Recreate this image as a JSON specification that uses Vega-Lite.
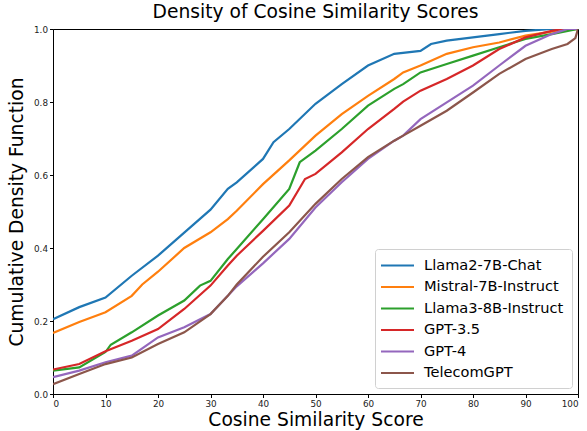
{
  "$schema": "https://vega.github.io/schema/vega-lite/v6.json",
  "width": 525,
  "height": 365,
  "autosize": {"type": "none"},
  "padding": {"left": 53, "top": 29, "right": 9, "bottom": 37},
  "background": "white",
  "title": {"text": "Density of Cosine Similarity Scores", "fontSize": 18.7, "fontWeight": "normal", "font": "DejaVu Sans", "color": "#000", "offset": 3},
  "config": {
    "font": "DejaVu Sans",
    "view": {"stroke": "#000", "strokeWidth": 1},
    "axis": {"grid": false, "domainColor": "#000", "tickColor": "#000", "tickSize": 3.5, "labelFontSize": 8.8, "labelColor": "#222", "titleFontSize": 18.7, "titleFontWeight": "normal", "titleColor": "#000", "labelFont": "DejaVu Sans", "titleFont": "DejaVu Sans"}
  },
  "datasets": {
    "cdf": [
      {"model": "Llama2-7B-Chat", "score": 0, "cdf": 0.205},
      {"model": "Llama2-7B-Chat", "score": 5, "cdf": 0.238},
      {"model": "Llama2-7B-Chat", "score": 10, "cdf": 0.264},
      {"model": "Llama2-7B-Chat", "score": 15, "cdf": 0.324},
      {"model": "Llama2-7B-Chat", "score": 20, "cdf": 0.379},
      {"model": "Llama2-7B-Chat", "score": 25, "cdf": 0.442},
      {"model": "Llama2-7B-Chat", "score": 30, "cdf": 0.505},
      {"model": "Llama2-7B-Chat", "score": 33.3, "cdf": 0.562},
      {"model": "Llama2-7B-Chat", "score": 35, "cdf": 0.58},
      {"model": "Llama2-7B-Chat", "score": 40, "cdf": 0.644},
      {"model": "Llama2-7B-Chat", "score": 42, "cdf": 0.69},
      {"model": "Llama2-7B-Chat", "score": 45, "cdf": 0.726},
      {"model": "Llama2-7B-Chat", "score": 50, "cdf": 0.795},
      {"model": "Llama2-7B-Chat", "score": 55, "cdf": 0.849},
      {"model": "Llama2-7B-Chat", "score": 60, "cdf": 0.9},
      {"model": "Llama2-7B-Chat", "score": 65, "cdf": 0.932},
      {"model": "Llama2-7B-Chat", "score": 70, "cdf": 0.94},
      {"model": "Llama2-7B-Chat", "score": 72, "cdf": 0.959},
      {"model": "Llama2-7B-Chat", "score": 75, "cdf": 0.968},
      {"model": "Llama2-7B-Chat", "score": 80, "cdf": 0.977},
      {"model": "Llama2-7B-Chat", "score": 85, "cdf": 0.986},
      {"model": "Llama2-7B-Chat", "score": 90, "cdf": 0.995},
      {"model": "Llama2-7B-Chat", "score": 95, "cdf": 1.0},
      {"model": "Llama2-7B-Chat", "score": 100, "cdf": 1.0},

      {"model": "Mistral-7B-Instruct", "score": 0, "cdf": 0.167},
      {"model": "Mistral-7B-Instruct", "score": 5, "cdf": 0.197},
      {"model": "Mistral-7B-Instruct", "score": 10, "cdf": 0.224},
      {"model": "Mistral-7B-Instruct", "score": 15, "cdf": 0.269},
      {"model": "Mistral-7B-Instruct", "score": 17, "cdf": 0.3},
      {"model": "Mistral-7B-Instruct", "score": 20, "cdf": 0.335},
      {"model": "Mistral-7B-Instruct", "score": 25, "cdf": 0.4},
      {"model": "Mistral-7B-Instruct", "score": 30, "cdf": 0.443},
      {"model": "Mistral-7B-Instruct", "score": 33.3, "cdf": 0.479},
      {"model": "Mistral-7B-Instruct", "score": 35, "cdf": 0.502},
      {"model": "Mistral-7B-Instruct", "score": 40, "cdf": 0.575},
      {"model": "Mistral-7B-Instruct", "score": 45, "cdf": 0.64},
      {"model": "Mistral-7B-Instruct", "score": 50, "cdf": 0.708},
      {"model": "Mistral-7B-Instruct", "score": 55, "cdf": 0.767},
      {"model": "Mistral-7B-Instruct", "score": 60, "cdf": 0.817},
      {"model": "Mistral-7B-Instruct", "score": 65, "cdf": 0.863},
      {"model": "Mistral-7B-Instruct", "score": 66.7, "cdf": 0.881},
      {"model": "Mistral-7B-Instruct", "score": 70, "cdf": 0.9},
      {"model": "Mistral-7B-Instruct", "score": 75, "cdf": 0.932},
      {"model": "Mistral-7B-Instruct", "score": 80, "cdf": 0.95},
      {"model": "Mistral-7B-Instruct", "score": 85, "cdf": 0.963},
      {"model": "Mistral-7B-Instruct", "score": 90, "cdf": 0.982},
      {"model": "Mistral-7B-Instruct", "score": 95, "cdf": 0.993},
      {"model": "Mistral-7B-Instruct", "score": 100, "cdf": 1.0},

      {"model": "Llama3-8B-Instruct", "score": 0, "cdf": 0.064},
      {"model": "Llama3-8B-Instruct", "score": 5, "cdf": 0.073},
      {"model": "Llama3-8B-Instruct", "score": 10, "cdf": 0.115},
      {"model": "Llama3-8B-Instruct", "score": 11, "cdf": 0.135},
      {"model": "Llama3-8B-Instruct", "score": 15, "cdf": 0.169},
      {"model": "Llama3-8B-Instruct", "score": 20, "cdf": 0.215},
      {"model": "Llama3-8B-Instruct", "score": 25, "cdf": 0.256},
      {"model": "Llama3-8B-Instruct", "score": 28, "cdf": 0.297},
      {"model": "Llama3-8B-Instruct", "score": 30, "cdf": 0.31},
      {"model": "Llama3-8B-Instruct", "score": 33.3, "cdf": 0.37},
      {"model": "Llama3-8B-Instruct", "score": 35, "cdf": 0.397},
      {"model": "Llama3-8B-Instruct", "score": 40, "cdf": 0.479},
      {"model": "Llama3-8B-Instruct", "score": 45, "cdf": 0.562},
      {"model": "Llama3-8B-Instruct", "score": 47, "cdf": 0.635},
      {"model": "Llama3-8B-Instruct", "score": 50, "cdf": 0.667},
      {"model": "Llama3-8B-Instruct", "score": 55, "cdf": 0.726},
      {"model": "Llama3-8B-Instruct", "score": 60, "cdf": 0.79},
      {"model": "Llama3-8B-Instruct", "score": 65, "cdf": 0.836},
      {"model": "Llama3-8B-Instruct", "score": 66.7, "cdf": 0.849},
      {"model": "Llama3-8B-Instruct", "score": 70, "cdf": 0.881},
      {"model": "Llama3-8B-Instruct", "score": 75, "cdf": 0.904},
      {"model": "Llama3-8B-Instruct", "score": 80, "cdf": 0.927},
      {"model": "Llama3-8B-Instruct", "score": 85, "cdf": 0.95},
      {"model": "Llama3-8B-Instruct", "score": 90, "cdf": 0.973},
      {"model": "Llama3-8B-Instruct", "score": 95, "cdf": 0.986},
      {"model": "Llama3-8B-Instruct", "score": 100, "cdf": 1.0},

      {"model": "GPT-3.5", "score": 0, "cdf": 0.067},
      {"model": "GPT-3.5", "score": 5, "cdf": 0.082},
      {"model": "GPT-3.5", "score": 10, "cdf": 0.117},
      {"model": "GPT-3.5", "score": 15, "cdf": 0.146},
      {"model": "GPT-3.5", "score": 20, "cdf": 0.178},
      {"model": "GPT-3.5", "score": 25, "cdf": 0.233},
      {"model": "GPT-3.5", "score": 30, "cdf": 0.297},
      {"model": "GPT-3.5", "score": 33.3, "cdf": 0.352},
      {"model": "GPT-3.5", "score": 35, "cdf": 0.379},
      {"model": "GPT-3.5", "score": 40, "cdf": 0.447},
      {"model": "GPT-3.5", "score": 45, "cdf": 0.516},
      {"model": "GPT-3.5", "score": 48, "cdf": 0.589},
      {"model": "GPT-3.5", "score": 50, "cdf": 0.603},
      {"model": "GPT-3.5", "score": 55, "cdf": 0.662},
      {"model": "GPT-3.5", "score": 60, "cdf": 0.726},
      {"model": "GPT-3.5", "score": 65, "cdf": 0.781},
      {"model": "GPT-3.5", "score": 66.7, "cdf": 0.801},
      {"model": "GPT-3.5", "score": 70, "cdf": 0.831},
      {"model": "GPT-3.5", "score": 75, "cdf": 0.863},
      {"model": "GPT-3.5", "score": 80, "cdf": 0.9},
      {"model": "GPT-3.5", "score": 85, "cdf": 0.945},
      {"model": "GPT-3.5", "score": 90, "cdf": 0.977},
      {"model": "GPT-3.5", "score": 95, "cdf": 0.995},
      {"model": "GPT-3.5", "score": 97, "cdf": 1.0},
      {"model": "GPT-3.5", "score": 100, "cdf": 1.0},

      {"model": "GPT-4", "score": 0, "cdf": 0.046},
      {"model": "GPT-4", "score": 5, "cdf": 0.064},
      {"model": "GPT-4", "score": 10, "cdf": 0.087},
      {"model": "GPT-4", "score": 15, "cdf": 0.105},
      {"model": "GPT-4", "score": 20, "cdf": 0.155},
      {"model": "GPT-4", "score": 25, "cdf": 0.183},
      {"model": "GPT-4", "score": 30, "cdf": 0.219},
      {"model": "GPT-4", "score": 33.3, "cdf": 0.269},
      {"model": "GPT-4", "score": 35, "cdf": 0.295},
      {"model": "GPT-4", "score": 40, "cdf": 0.358},
      {"model": "GPT-4", "score": 45, "cdf": 0.425},
      {"model": "GPT-4", "score": 50, "cdf": 0.511},
      {"model": "GPT-4", "score": 55, "cdf": 0.58},
      {"model": "GPT-4", "score": 60, "cdf": 0.644},
      {"model": "GPT-4", "score": 65, "cdf": 0.694},
      {"model": "GPT-4", "score": 66.7, "cdf": 0.708},
      {"model": "GPT-4", "score": 70, "cdf": 0.753},
      {"model": "GPT-4", "score": 75, "cdf": 0.799},
      {"model": "GPT-4", "score": 80, "cdf": 0.845},
      {"model": "GPT-4", "score": 85, "cdf": 0.9},
      {"model": "GPT-4", "score": 90, "cdf": 0.954},
      {"model": "GPT-4", "score": 95, "cdf": 0.986},
      {"model": "GPT-4", "score": 98, "cdf": 1.0},
      {"model": "GPT-4", "score": 100, "cdf": 1.0},

      {"model": "TelecomGPT", "score": 0, "cdf": 0.027},
      {"model": "TelecomGPT", "score": 5, "cdf": 0.055},
      {"model": "TelecomGPT", "score": 10, "cdf": 0.082},
      {"model": "TelecomGPT", "score": 15, "cdf": 0.1},
      {"model": "TelecomGPT", "score": 20, "cdf": 0.137},
      {"model": "TelecomGPT", "score": 25, "cdf": 0.169},
      {"model": "TelecomGPT", "score": 30, "cdf": 0.219},
      {"model": "TelecomGPT", "score": 33.3, "cdf": 0.269},
      {"model": "TelecomGPT", "score": 35, "cdf": 0.3},
      {"model": "TelecomGPT", "score": 40, "cdf": 0.376},
      {"model": "TelecomGPT", "score": 45, "cdf": 0.443},
      {"model": "TelecomGPT", "score": 50, "cdf": 0.521},
      {"model": "TelecomGPT", "score": 55, "cdf": 0.589},
      {"model": "TelecomGPT", "score": 60, "cdf": 0.649},
      {"model": "TelecomGPT", "score": 65, "cdf": 0.694},
      {"model": "TelecomGPT", "score": 66.7, "cdf": 0.708},
      {"model": "TelecomGPT", "score": 70, "cdf": 0.735},
      {"model": "TelecomGPT", "score": 75, "cdf": 0.776},
      {"model": "TelecomGPT", "score": 80, "cdf": 0.826},
      {"model": "TelecomGPT", "score": 85, "cdf": 0.877},
      {"model": "TelecomGPT", "score": 90, "cdf": 0.918},
      {"model": "TelecomGPT", "score": 95, "cdf": 0.945},
      {"model": "TelecomGPT", "score": 98, "cdf": 0.959},
      {"model": "TelecomGPT", "score": 99.5, "cdf": 0.975},
      {"model": "TelecomGPT", "score": 100, "cdf": 1.0}
    ]
  },
  "data": {"name": "cdf"},
  "mark": {"type": "line", "strokeWidth": 2.2, "clip": true},
  "encoding": {
    "x": {"field": "score", "type": "quantitative", "scale": {"domain": [0, 100], "nice": false}, "axis": {"values": [0,10,20,30,40,50,60,70,80,90,100], "title": "Cosine Similarity Score", "titlePadding": 2, "labelPadding": 2}},
    "y": {"field": "cdf", "type": "quantitative", "scale": {"domain": [0, 1], "nice": false}, "axis": {"values": [0,0.2,0.4,0.6,0.8,1.0], "format": ".1f", "title": "Cumulative Density Function", "titlePadding": 7, "labelPadding": 2}},
    "color": {
      "field": "model", "type": "nominal",
      "scale": {"domain": ["Llama2-7B-Chat", "Mistral-7B-Instruct", "Llama3-8B-Instruct", "GPT-3.5", "GPT-4", "TelecomGPT"], "range": ["#1f77b4", "#ff7f0e", "#2ca02c", "#d62728", "#9467bd", "#8c564b"]},
      "legend": {"title": null, "orient": "bottom-right", "offset": 6, "labelFontSize": 14.6, "labelColor": "#000", "labelFont": "DejaVu Sans", "symbolType": "M-2.2,0H2.2", "symbolSize": 225, "symbolStrokeWidth": 2, "symbolOffset": 6, "rowPadding": 5.5, "strokeColor": "#d0d0d0", "cornerRadius": 3, "padding": 8, "fillColor": "white", "labelOffset": 18}
    },
    "order": {"field": "score", "type": "quantitative"}
  }
}
